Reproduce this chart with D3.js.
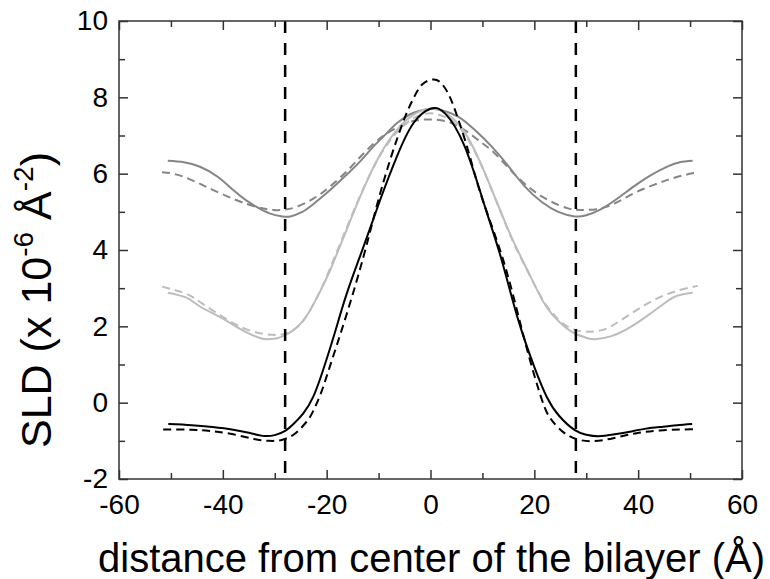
<!DOCTYPE html>
<html>
<head>
<meta charset="utf-8">
<script src="https://cdn.jsdelivr.net/npm/d3@7"></script>
<style>
  html, body { margin: 0; padding: 0; background: #fff; }
  svg { display: block; }
  text { font-family: "Liberation Sans", Arial, sans-serif; fill: #000; }
</style>
</head>
<body>
<svg id="chart" width="770" height="579"></svg>
<script>
// ---- data (x in Å, SLD in 1e-6 Å^-2) ----
const blackSolidX = [-50.5,-46,-42,-38,-35,-32.3,-30,-28,-26.4,-24.5,-22.6,-20.7,-18.5,-16.1,-12.9,-9.7,-6.5,-3.3,0,2.8,6.6,10.5,13.7,16.9,20.1,22.4,24.8,27.8,30,32.3,35.5,38.4,41.5,44.8,47.5,50.4];
const blackSolidY = [-0.56,-0.59,-0.64,-0.71,-0.79,-0.87,-0.85,-0.74,-0.56,-0.28,0.15,0.85,1.8,2.87,4.09,5.31,6.44,7.32,7.7,7.58,6.71,5.13,3.74,2.17,0.9,0.15,-0.35,-0.72,-0.84,-0.88,-0.83,-0.76,-0.68,-0.63,-0.59,-0.56];

const blackDashX = [-51.5,-46,-42,-38,-34,-31,-28.5,-26,-24,-22.9,-21.3,-19.4,-16.1,-12.9,-10.4,-7.8,-5.0,-3.0,-1.5,0.5,2,3.2,4.5,6.6,8.5,10.5,14.4,18.2,21.4,23.3,26.4,30.7,35.2,39.7,44.2,49,51];
const blackDashY = [-0.70,-0.71,-0.75,-0.83,-0.95,-1.0,-0.97,-0.80,-0.52,-0.30,0.18,0.94,2.34,3.83,5.13,6.35,7.45,8.05,8.35,8.47,8.38,8.15,7.75,6.9,6.0,5.13,3.56,1.6,0.1,-0.45,-0.85,-1.01,-0.93,-0.80,-0.73,-0.70,-0.70];

const lightSolidX = [-50.6,-47,-44.4,-40,-36,-33,-31.6,-29.5,-27.5,-25.5,-23.5,-21.5,-19.4,-16.1,-12.9,-9.7,-6.5,-3.3,0,3,6.5,10.5,15,18.2,21.4,23.5,25.9,28,30,31.7,35,38.4,42,45,47.5,50.5];
const lightSolidY = [2.88,2.75,2.52,2.2,1.88,1.70,1.66,1.69,1.80,2.0,2.35,2.85,3.45,4.55,5.6,6.5,7.14,7.54,7.7,7.58,7.1,6.01,4.52,3.6,2.72,2.3,1.98,1.8,1.7,1.66,1.75,1.97,2.3,2.6,2.8,2.88];

const lightDashX = [-51.7,-47,-44,-40,-36,-32,-29,-27,-25,-23,-21,-19.4,-16.1,-12.9,-9.7,-6.5,-3.3,0,3.3,6.5,10.5,15,18.2,21.4,23.5,25.5,28,30,33,36,40,44,48,51.5];
const lightDashY = [3.04,2.85,2.6,2.25,1.95,1.8,1.78,1.86,2.07,2.47,3.0,3.5,4.6,5.62,6.48,7.08,7.45,7.58,7.45,7.05,6.0,4.5,3.58,2.75,2.35,2.07,1.9,1.86,1.9,2.1,2.45,2.75,2.95,3.06];

const medSolidX = [-50.6,-47.5,-44.4,-41,-38,-35.5,-33.5,-31,-28.5,-27,-24.8,-22.6,-19.5,-16.1,-13.5,-11,-8.5,-6.5,-4,-2,0,2.5,5.4,8.5,11.8,15,18.2,21.5,24.6,27.8,30,32.6,35.8,39.1,42.3,45.5,48,50.5];
const medSolidY = [6.34,6.3,6.18,5.92,5.57,5.3,5.13,4.96,4.88,4.88,4.99,5.2,5.55,5.98,6.33,6.71,7.05,7.32,7.55,7.65,7.7,7.65,7.49,7.15,6.71,6.2,5.66,5.25,5.0,4.88,4.91,5.05,5.33,5.66,5.95,6.18,6.3,6.34];

const medDashX = [-51.7,-47.6,-41.2,-34.8,-30.3,-28,-25.8,-22.5,-19.4,-16,-12.9,-9.5,-6.5,-3.3,0,3.3,6.5,9.5,12.4,15.5,18.8,22.5,26.5,29,32,35.5,39.1,42.5,45.5,48.5,51.6];
const medDashY = [6.04,5.92,5.53,5.18,5.05,5.06,5.13,5.35,5.66,6.08,6.53,6.95,7.2,7.38,7.42,7.36,7.15,6.85,6.53,6.08,5.66,5.32,5.09,5.05,5.07,5.22,5.48,5.68,5.83,5.95,6.04];

const markerX = [-28, 28];
const xTicks = [-60, -40, -20, 0, 20, 40, 60];
const yTicks = [-2, 0, 2, 4, 6, 8, 10];
const xMinor = [-50, -30, -10, 10, 30, 50];
const yMinor = [-1, 1, 3, 5, 7, 9];

const series = [
  { x: medSolidX,   y: medSolidY,   color: "#858585", dash: null },
  { x: medDashX,    y: medDashY,    color: "#858585", dash: "8,5" },
  { x: lightSolidX, y: lightSolidY, color: "#bdbdbd", dash: null },
  { x: lightDashX,  y: lightDashY,  color: "#bdbdbd", dash: "8,5" },
  { x: blackSolidX, y: blackSolidY, color: "#000000", dash: null },
  { x: blackDashX,  y: blackDashY,  color: "#000000", dash: "8,5" }
];

// ---- layout ----
const svg = d3.select("#chart");
const L = 119, R = 742, T = 21, B = 479;
const xs = d3.scaleLinear().domain([-60, 60]).range([L, R]);
const ys = d3.scaleLinear().domain([-2, 10]).range([B, T]);

// curves
const line = d3.line().x(d => xs(d[0])).y(d => ys(d[1])).curve(d3.curveNatural);
series.forEach(s => {
  const pts = s.x.map((v, i) => [v, s.y[i]]);
  svg.append("path")
    .attr("d", line(pts))
    .attr("fill", "none")
    .attr("stroke", s.color)
    .attr("stroke-width", 2)
    .attr("stroke-dasharray", s.dash);
});

// vertical dashed markers
svg.selectAll(".vmark").data(markerX).enter().append("line")
  .attr("x1", d => xs(d)).attr("x2", d => xs(d))
  .attr("y1", T).attr("y2", B)
  .attr("stroke", "#000").attr("stroke-width", 2.5)
  .attr("stroke-dasharray", "12,10");

// axes (ticks inside, mirrored)
const axisColor = "#333";
const fmt = d => String(d);
function styleAxis(g) {
  g.select(".domain").remove();
  g.selectAll("line").attr("stroke", axisColor).attr("stroke-width", 1.5);
  g.selectAll("text").style("font-family", '"Liberation Sans", Arial, sans-serif').style("font-size", "28px").attr("fill", "#000");
}
const gBottom = svg.append("g").attr("transform", `translate(0,${B})`)
  .call(d3.axisBottom(xs).tickValues(xTicks).tickSizeInner(-9).tickSizeOuter(0).tickPadding(15).tickFormat(fmt));
styleAxis(gBottom);
const gBottomMinor = svg.append("g").attr("transform", `translate(0,${B})`)
  .call(d3.axisBottom(xs).tickValues(xMinor).tickSizeInner(-6).tickSizeOuter(0).tickFormat(""));
styleAxis(gBottomMinor);

const gTop = svg.append("g").attr("transform", `translate(0,${T})`)
  .call(d3.axisTop(xs).tickValues(xTicks).tickSizeInner(-9).tickSizeOuter(0).tickFormat(""));
styleAxis(gTop);
const gTopMinor = svg.append("g").attr("transform", `translate(0,${T})`)
  .call(d3.axisTop(xs).tickValues(xMinor).tickSizeInner(-6).tickSizeOuter(0).tickFormat(""));
styleAxis(gTopMinor);

const gLeft = svg.append("g").attr("transform", `translate(${L},0)`)
  .call(d3.axisLeft(ys).tickValues(yTicks).tickSizeInner(-9).tickSizeOuter(0).tickPadding(11).tickFormat(fmt));
styleAxis(gLeft);
const gLeftMinor = svg.append("g").attr("transform", `translate(${L},0)`)
  .call(d3.axisLeft(ys).tickValues(yMinor).tickSizeInner(-6).tickSizeOuter(0).tickFormat(""));
styleAxis(gLeftMinor);

const gRight = svg.append("g").attr("transform", `translate(${R},0)`)
  .call(d3.axisRight(ys).tickValues(yTicks).tickSizeInner(-9).tickSizeOuter(0).tickFormat(""));
styleAxis(gRight);
const gRightMinor = svg.append("g").attr("transform", `translate(${R},0)`)
  .call(d3.axisRight(ys).tickValues(yMinor).tickSizeInner(-6).tickSizeOuter(0).tickFormat(""));
styleAxis(gRightMinor);

// frame
svg.append("rect").attr("x", L).attr("y", T).attr("width", R - L).attr("height", B - T)
  .attr("fill", "none").attr("stroke", axisColor).attr("stroke-width", 1.5);

// axis titles
svg.append("text")
  .attr("x", (L + R) / 2 + 1).attr("y", 572)
  .attr("text-anchor", "middle")
  .style("font-size", "40px")
  .text("distance from center of the bilayer (Å)");

const yl = svg.append("text")
  .attr("transform", "translate(51,300) rotate(-90)")
  .attr("text-anchor", "middle")
  .style("font-size", "43px");
yl.append("tspan").text("SLD (x 10");
yl.append("tspan").attr("dy", -18).style("font-size", "28px").text("-6");
yl.append("tspan").attr("dy", 18).text(" Å");
yl.append("tspan").attr("dy", -18).style("font-size", "28px").text("-2");
yl.append("tspan").attr("dy", 18).text(")");
</script>
</body>
</html>
